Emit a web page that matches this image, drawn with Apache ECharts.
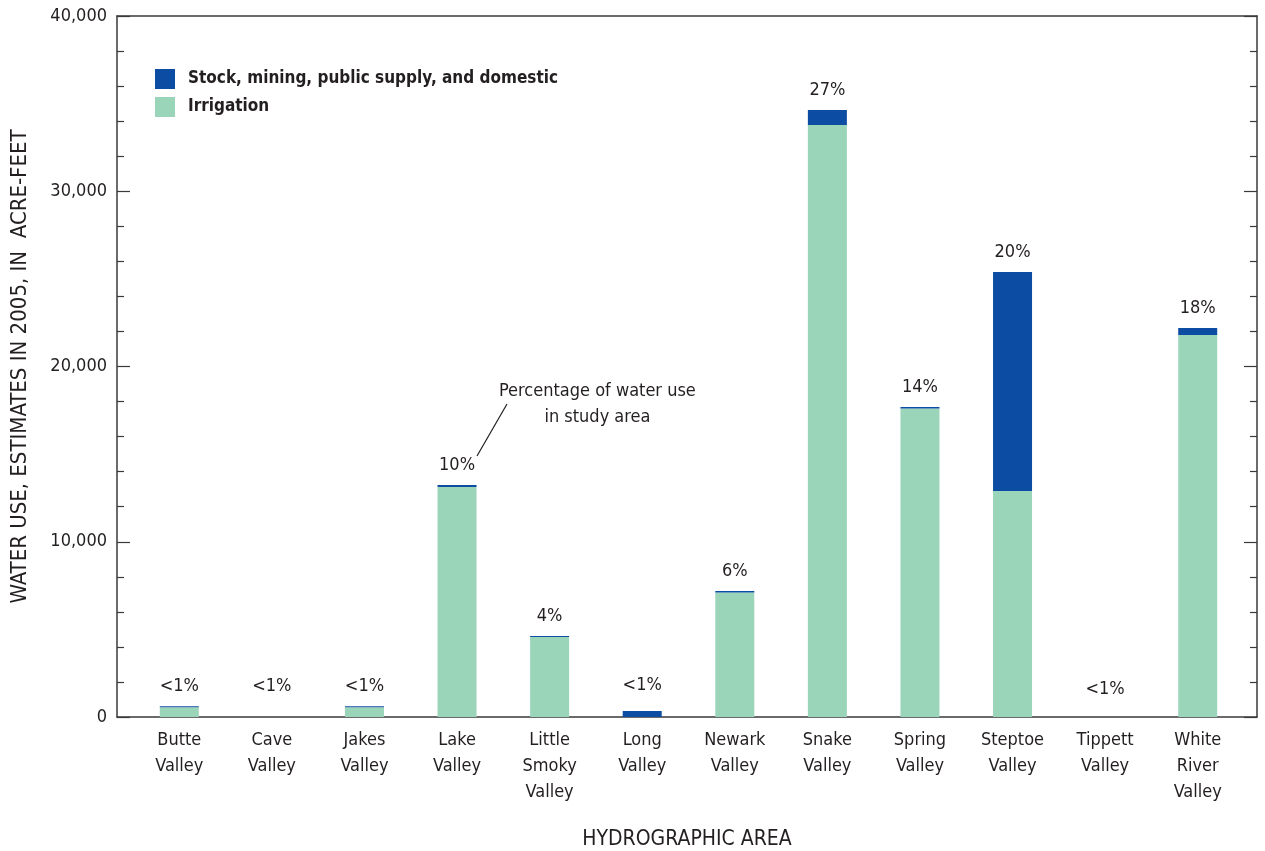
<!DOCTYPE html>
<html style="height: 100%">
<head>
	<meta charset="utf-8">
</head>
<body style="height: 100%; margin: 0; background: #fff">
<div id="container" style="width: 1265px; height: 851px"></div>
<script type="text/javascript" src="https://cdn.jsdelivr.net/npm/echarts@6/dist/echarts.min.js"></script>
<script type="text/javascript">
    var areas = ['Butte\nValley', 'Cave\nValley', 'Jakes\nValley', 'Lake\nValley', 'Little\nSmoky\nValley', 'Long\nValley',
        'Newark\nValley', 'Snake\nValley', 'Spring\nValley', 'Steptoe\nValley', 'Tippett\nValley', 'White\nRiver\nValley'];
    var irrigation = [560, 0, 560, 13130, 4560, 0, 7100, 33780, 17600, 12900, 0, 21800];
    var stock = [60, 0, 60, 110, 60, 340, 90, 860, 90, 12490, 0, 400];
    var pctLabels = ['<1%', '<1%', '<1%', '10%', '4%', '<1%', '6%', '27%', '14%', '20%', '<1%', '18%'];
    var yTicks = [0, 10000, 20000, 30000, 40000];

    var FONT = "'Liberation Sans Narrow', 'DejaVu Sans Condensed', Roboto, sans-serif";
    var TXT = '#231f20';
    var AX = '#3a3a3a';

    var dom = document.getElementById("container");
    var myChart = echarts.init(dom);

    // the "<1%" labels sit at one common height, whatever the bar below them
    var labelLift = {1: -11, 5: -6, 10: -8};
    var stockData = stock.map(function (v, i) {
        var item = {value: v};
        if (labelLift[i] !== undefined) {
            item.label = {offset: [0, labelLift[i]]};
        }
        return item;
    });

    var frameLine = {show: true, onZero: false, lineStyle: {color: AX, width: 1.5}};

    var option = {
        backgroundColor: '#fff',
        textStyle: {fontFamily: FONT, color: TXT},
        legend: {
            orient: 'vertical',
            left: 150,
            top: 64,
            itemWidth: 20,
            itemHeight: 20,
            itemGap: 8,
            icon: 'rect',
            selectedMode: false,
            data: ['Stock, mining, public supply, and domestic', 'Irrigation'],
            textStyle: {fontFamily: FONT, fontSize: 17, fontWeight: 'bold', color: TXT, padding: [0, 0, 0, 8]}
        },
        grid: [
            {left: 117, right: 8, top: 16, bottom: 134, outerBoundsMode: 'none'},
            {left: 133, right: 21, top: 16, bottom: 134, outerBoundsMode: 'none'}
        ],
        xAxis: [
            {gridIndex: 0, type: 'value', min: 0, max: 1, position: 'bottom',
                axisLine: frameLine, axisTick: {show: false},
                axisLabel: {show: false}, splitLine: {show: false},
                name: 'HYDROGRAPHIC AREA', nameLocation: 'middle', nameGap: 112,
                nameTextStyle: {fontFamily: FONT, fontSize: 21, color: TXT}},
            {gridIndex: 0, type: 'value', min: 0, max: 1, position: 'top',
                axisLine: frameLine, axisTick: {show: false},
                axisLabel: {show: false}, splitLine: {show: false}},
            {gridIndex: 1, type: 'category', data: areas, position: 'bottom',
                axisLine: {show: false}, axisTick: {show: false},
                axisLabel: {interval: 0, fontFamily: FONT, fontSize: 18, color: TXT, lineHeight: 26, margin: 10}}
        ],
        yAxis: [
            {gridIndex: 0, type: 'value', min: 0, max: 40000, interval: 10000, position: 'left',
                axisLine: frameLine,
                axisTick: {show: true, inside: true, length: 13, lineStyle: {color: AX, width: 1.2}},
                minorTick: {show: true, splitNumber: 5, length: 7, lineStyle: {color: AX, width: 1.2}},
                splitLine: {show: false},
                axisLabel: {fontFamily: FONT, fontSize: 18, color: TXT, margin: 10,
                    customValues: yTicks,
                    formatter: function (v) { return v.toLocaleString('en-US'); }},
                name: 'WATER USE, ESTIMATES IN 2005, IN  ACRE-FEET', nameLocation: 'middle', nameGap: 86,
                nameTextStyle: {fontFamily: FONT, fontSize: 22, color: TXT}},
            {gridIndex: 0, type: 'value', min: 0, max: 40000, interval: 10000, position: 'right',
                axisLine: frameLine,
                axisTick: {show: true, inside: true, length: 13, lineStyle: {color: AX, width: 1.2}},
                minorTick: {show: true, splitNumber: 5, length: 7, lineStyle: {color: AX, width: 1.2}},
                splitLine: {show: false}, axisLabel: {show: false}},
            {gridIndex: 1, type: 'value', min: 0, max: 40000, show: false}
        ],
        series: [
            {
                name: 'Irrigation', type: 'bar', stack: 'use', xAxisIndex: 2, yAxisIndex: 2,
                barWidth: 39, data: irrigation,
                itemStyle: {color: '#9ad4b9'}
            },
            {
                name: 'Stock, mining, public supply, and domestic', type: 'bar', stack: 'use', xAxisIndex: 2, yAxisIndex: 2,
                barWidth: 39, data: stockData,
                itemStyle: {color: '#0c4ca2'},
                label: {
                    show: true, position: 'top', distance: 11,
                    fontFamily: FONT, fontSize: 18, color: TXT,
                    formatter: function (p) { return pctLabels[p.dataIndex]; }
                }
            }
        ],
        graphic: [
            {type: 'text', left: 499, top: 378,
                style: {text: 'Percentage of water use\nin study area', fontFamily: FONT, fontSize: 18,
                    fill: TXT, align: 'center', lineHeight: 26, x: 105, textAlign: 'center'}},
            {type: 'line', shape: {x1: 477, y1: 456, x2: 507, y2: 404},
                style: {stroke: TXT, lineWidth: 1.2}}
        ]
    };

    myChart.setOption(option, true);
</script>
</body>
</html>
